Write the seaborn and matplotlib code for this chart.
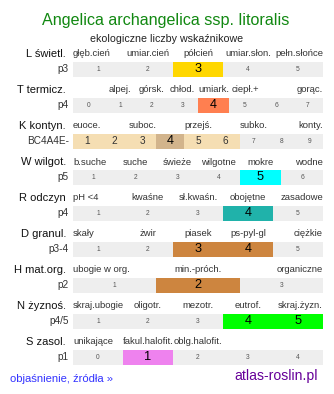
import numpy as np
import matplotlib
matplotlib.use("Agg")
import matplotlib.pyplot as plt
from matplotlib.colors import ListedColormap
import seaborn as sns

# ---- data ----
title = "Angelica archangelica ssp. litoralis"
subtitle = "ekologiczne liczby wskaźnikowe"
row_names = ["L świetl.", "T termicz.", "K kontyn.", "W wilgot.", "R odczyn",
             "D granul.", "H mat.org.", "N żyznoś.", "S zasol."]
row_codes = ["p3", "p4", "BC4A4E-", "p5", "p4", "p3-4", "p2", "p4/5", "p1"]
cell_values = [
    [1, 2, 3, 4, 5],
    [0, 1, 2, 3, 4, 5, 6, 7],
    [1, 2, 3, 4, 5, 6, 7, 8, 9],
    [1, 2, 3, 4, 5, 6],
    [1, 2, 3, 4, 5],
    [1, 2, 3, 4, 5],
    [1, 2, 3],
    [1, 2, 3, 4, 5],
    [0, 1, 2, 3, 4],
]
highlight = [[3], [4], [4], [5], [4], [3, 4], [2], [4, 5], [1]]
range_cells = [[], [], [1, 2, 3, 5, 6], [], [], [], [], [], []]
highlight_colors = ["#FFD700", "#FF7F50", "#D2B48C", "#00FFFF", "#20B2AA",
                    "#CD853F", "#CD853F", "#00FF00", "#EE82EE"]
range_colors = ["#EEEEEE", "#EEEEEE", "#F5DEB3", "#EEEEEE", "#EEEEEE",
                "#EEEEEE", "#EEEEEE", "#EEEEEE", "#EEEEEE"]
category_values = [
    [1, 2, 3, 4, 5],
    [1, 2, 3, 4, 5, 7],
    [1, 3, 5, 7, 9],
    [1, 2, 3, 4, 5, 6],
    [1, 2, 3, 4, 5],
    [1, 2, 3, 4, 5],
    [1, 2, 3],
    [1, 2, 3, 4, 5],
    [0, 1, 2],
]
category_labels = [
    ["głęb.cień", "umiar.cień", "półcień", "umiar.słon.", "pełn.słońce"],
    ["alpej.", "górsk.", "chłod.", "umiark.", "ciepł.+", "gorąc."],
    ["euoce.", "suboc.", "przejś.", "subko.", "konty."],
    ["b.suche", "suche", "świeże", "wilgotne", "mokre", "wodne"],
    ["pH <4", "kwaśne", "sł.kwaśn.", "obojętne", "zasadowe"],
    ["skały", "żwir", "piasek", "ps-pyl-gl", "ciężkie"],
    ["ubogie w org.", "min.-próch.", "organiczne"],
    ["skraj.ubogie", "oligotr.", "mezotr.", "eutrof.", "skraj.żyzn."],
    ["unikające", "fakul.halofit.", "oblg.halofit."],
]
footer_left = "objaśnienie, źródła »"
footer_right = "atlas-roslin.pl"

# ---- layout (pixels) ----
W, H = 334, 394
BAR_X, BAR_W, BAR_H = 73, 250, 15
FIRST_TOP, STEP = 62, 36

plt.rcParams["font.family"] = ["Liberation Sans", "DejaVu Sans"]
fig = plt.figure(figsize=(W / 100, H / 100), dpi=100)
fig.patch.set_facecolor("white")


def fx(px):
    return px / W


def fy(py):
    return 1 - py / H


fig.text(fx(166), fy(25), title, color="#118811", fontsize=11.6,
         ha="center", va="baseline")
fig.text(fx(167), fy(41.5), subtitle, color="#222222", fontsize=7.7,
         ha="center", va="baseline")

for i in range(len(row_names)):
    top = FIRST_TOP + i * STEP
    ax = fig.add_axes([fx(BAR_X), fy(top + BAR_H), BAR_W / W, BAR_H / H])
    vals = cell_values[i]
    codes = np.array([[2 if v in highlight[i] else (1 if v in range_cells[i] else 0)
                       for v in vals]])
    annot = np.array([[str(v) for v in vals]])
    cmap = ListedColormap(["#EEEEEE", range_colors[i], highlight_colors[i]])
    sns.heatmap(codes, ax=ax, cmap=cmap, vmin=-0.5, vmax=2.5, cbar=False,
                annot=annot, fmt="", xticklabels=False, yticklabels=False,
                linewidths=0)
    for t, code in zip(ax.texts, codes[0]):
        if code == 2:
            t.set_fontsize(9.2)
            t.set_color("#000000")
        elif code == 1:
            t.set_fontsize(7.2)
            t.set_color("#333333")
        else:
            t.set_fontsize(4.8)
            t.set_color("#555555")
    n = len(vals)
    ylab = -8.0 / BAR_H
    for v, lab in zip(category_values[i], category_labels[i]):
        j = vals.index(v)
        if j == 0:
            x, ha = 0, "left"
        elif j == n - 1:
            x, ha = n, "right"
        else:
            x, ha = j + 0.5, "center"
        ax.text(x, ylab, lab, ha=ha, va="center", fontsize=6.8,
                color="#333333", clip_on=False)
    tr = ax.get_yaxis_transform()
    ax.text((66 - BAR_X) / BAR_W, ylab, row_names[i], transform=tr,
            ha="right", va="center", fontsize=8.0, color="#111111", clip_on=False)
    ax.text((69 - BAR_X) / BAR_W, 0.5, row_codes[i], transform=tr,
            ha="right", va="center", fontsize=7.2, color="#333333", clip_on=False)

fig.text(fx(10), fy(381.5), footer_left, color="#3333FF", fontsize=8.1,
         ha="left", va="baseline")
fig.text(fx(318), fy(380), footer_right, color="#660099", fontsize=10.1,
         ha="right", va="baseline")

fig.savefig("out.png", dpi=100, facecolor="white")
